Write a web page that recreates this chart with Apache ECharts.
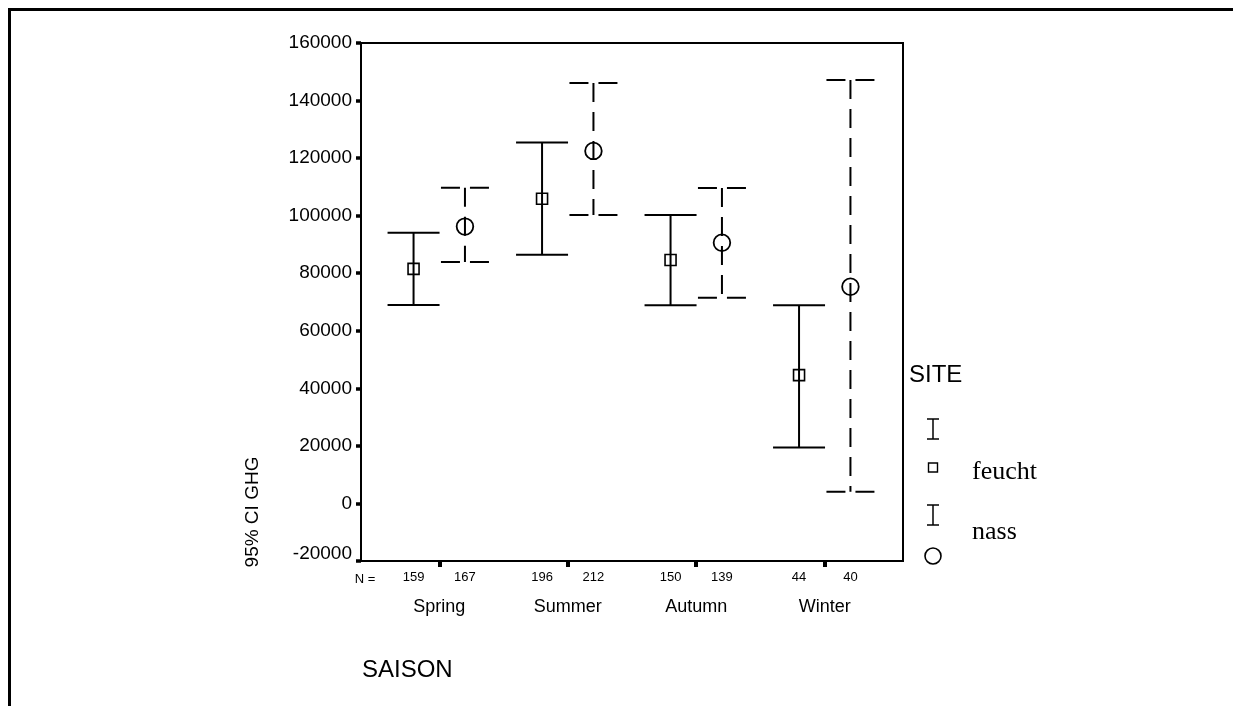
<!DOCTYPE html>
<html>
<head>
<meta charset="utf-8">
<title>95% CI GHG nach SAISON und SITE</title>
<script src="https://cdn.jsdelivr.net/npm/echarts@6/dist/echarts.min.js"></script>
<style>
  html, body { margin: 0; padding: 0; background: #fff; }
  #chart { width: 1236px; height: 706px; }
</style>
</head>
<body>
<div id="chart"></div>
<script>
// Seasons on the x axis
const categories = ['Spring', 'Summer', 'Autumn', 'Winter'];

// Site "feucht": mean and 95% confidence limits of GHG
const feuchtMean = [81500, 105900, 84600, 44600];
const feuchtLow  = [69000, 86400, 68900, 19400];
const feuchtHigh = [94100, 125400, 100200, 68900];
const feuchtN    = [159, 196, 150, 44];

// Site "nass": mean and 95% confidence limits of GHG
const nassMean = [96200, 122500, 90600, 75300];
const nassLow  = [83900, 100200, 71500, 4100];
const nassHigh = [109700, 146100, 109600, 147100];
const nassN    = [167, 212, 139, 40];

// Value axis ticks
const yTicks = [-20000, 0, 20000, 40000, 60000, 80000, 100000, 120000, 140000, 160000];

const SANS = '"Liberation Sans", Arial, sans-serif';
const SERIF = '"Liberation Serif", "Times New Roman", serif';
const OFFSET = 0.2;          // horizontal shift of each site within a season

const catPos = categories.map((c, i) => i + 1);
const labelText = {};
categories.forEach((c, i) => {
  labelText[Math.round((i + 1) * 10)] = '{cat|' + c + '}';
  labelText[Math.round((i + 1 - OFFSET) * 10)] = '{n|' + feuchtN[i] + '}';
  labelText[Math.round((i + 1 + OFFSET) * 10)] = '{n|' + nassN[i] + '}';
});
const labelPos = [];
catPos.forEach(p => { labelPos.push(p - OFFSET, p, p + OFFSET); });

function buildData(low, mean, high, shift) {
  return categories.map((c, i) => [i + 1 + shift, low[i], mean[i], high[i]]);
}

// Error bar: vertical whisker, two caps and a hollow marker at the mean
function errorBar(dashed, marker) {
  return function (params, api) {
    const x = api.value(0);
    const pLo = api.coord([x, api.value(1)]);
    const pMean = api.coord([x, api.value(2)]);
    const pHi = api.coord([x, api.value(3)]);
    const half = dashed ? 24 : 26;
    const lineStyle = {
      stroke: '#000', lineWidth: 2, fill: null,
      lineDash: dashed ? [19, 10] : null
    };
    const children = [
      { type: 'line', shape: { x1: pHi[0], y1: pHi[1], x2: pLo[0], y2: pLo[1] }, style: lineStyle },
      { type: 'line', shape: { x1: pHi[0] - half, y1: pHi[1], x2: pHi[0] + half, y2: pHi[1] }, style: lineStyle },
      { type: 'line', shape: { x1: pLo[0] - half, y1: pLo[1], x2: pLo[0] + half, y2: pLo[1] }, style: lineStyle }
    ];
    if (marker === 'square') {
      children.push({
        type: 'rect',
        shape: { x: pMean[0] - 5.5, y: pMean[1] - 5.5, width: 11, height: 11 },
        style: { stroke: '#000', lineWidth: 1.6, fill: null }
      });
    } else {
      children.push({
        type: 'circle',
        shape: { cx: pMean[0], cy: pMean[1], r: 8.3 },
        style: { stroke: '#000', lineWidth: 1.8, fill: null }
      });
    }
    return { type: 'group', children: children };
  };
}

const chart = echarts.init(document.getElementById('chart'), null, { renderer: 'canvas' });

// Legend block on the right side of the plot
const legendX = 933;
const legendGraphics = [
  { type: 'text', left: 909, top: 363, style: { text: 'SITE', font: '24px ' + SANS, fill: '#000' } },
  { type: 'line', shape: { x1: legendX, y1: 419, x2: legendX, y2: 439 }, style: { stroke: '#000', lineWidth: 1.5 } },
  { type: 'line', shape: { x1: legendX - 6, y1: 419, x2: legendX + 6, y2: 419 }, style: { stroke: '#000', lineWidth: 1.5 } },
  { type: 'line', shape: { x1: legendX - 6, y1: 439, x2: legendX + 6, y2: 439 }, style: { stroke: '#000', lineWidth: 1.5 } },
  { type: 'rect', shape: { x: legendX - 4.5, y: 463, width: 9, height: 9 }, style: { stroke: '#000', lineWidth: 1.4, fill: null } },
  { type: 'text', x: 972, y: 472, style: { text: 'feucht', font: '26px ' + SERIF, fill: '#000', verticalAlign: 'middle' } },
  { type: 'line', shape: { x1: legendX, y1: 505, x2: legendX, y2: 525 }, style: { stroke: '#000', lineWidth: 1.5 } },
  { type: 'line', shape: { x1: legendX - 6, y1: 505, x2: legendX + 6, y2: 505 }, style: { stroke: '#000', lineWidth: 1.5 } },
  { type: 'line', shape: { x1: legendX - 6, y1: 525, x2: legendX + 6, y2: 525 }, style: { stroke: '#000', lineWidth: 1.5 } },
  { type: 'circle', shape: { cx: legendX, cy: 556, r: 8 }, style: { stroke: '#000', lineWidth: 1.6, fill: null } },
  { type: 'text', x: 972, y: 532, style: { text: 'nass', font: '26px ' + SERIF, fill: '#000', verticalAlign: 'middle' } }
];

const option = {
  backgroundColor: '#fff',
  animation: false,
  grid: {
    left: 361, top: 43, width: 542, height: 518,
    show: true, borderColor: '#000', borderWidth: 2, backgroundColor: 'transparent'
  },
  xAxis: {
    type: 'value',
    min: 0.391,
    max: 4.609,
    splitLine: { show: false },
    axisLine: { show: true, onZero: false, lineStyle: { color: '#000', width: 2 } },
    axisTick: {
      show: true, customValues: catPos, length: 6, inside: false,
      lineStyle: { color: '#000', width: 4 }
    },
    axisLabel: {
      show: true,
      customValues: labelPos,
      margin: 10,
      formatter: function (v) { return labelText[Math.round(v * 10)] || ''; },
      rich: {
        n: { fontSize: 13, fontFamily: SANS, color: '#000' },
        cat: { fontSize: 18, fontFamily: SANS, color: '#000', padding: [27, 0, 0, 0] }
      }
    }
  },
  yAxis: {
    type: 'value',
    min: yTicks[0],
    max: yTicks[yTicks.length - 1],
    interval: yTicks[1] - yTicks[0],
    splitLine: { show: false },
    axisLine: { show: true, onZero: false, lineStyle: { color: '#000', width: 2 } },
    axisTick: { show: true, length: 5, lineStyle: { color: '#000', width: 3.5 } },
    axisLabel: {
      margin: 9,
      color: '#000',
      fontSize: 19,
      fontFamily: SANS,
      formatter: function (v) { return v === yTicks[0] ? '{low|' + v + '}' : String(v); },
      rich: {
        low: { fontSize: 19, fontFamily: SANS, color: '#000', padding: [0, 0, 14, 0] }
      }
    }
  },
  graphic: [
    // outer frame
    { type: 'polyline', shape: { points: [[9.5, 706], [9.5, 9.5], [1233, 9.5]] }, style: { stroke: '#000', lineWidth: 3, fill: null } },
    { type: 'text', x: 253, y: 512, rotation: Math.PI / 2,
      style: { text: '95% CI GHG', font: '19px ' + SANS, fill: '#000', align: 'center', verticalAlign: 'middle' } },
    { type: 'text', x: 365, y: 579,
      style: { text: 'N =', font: '13px ' + SANS, fill: '#000', align: 'center', verticalAlign: 'middle' } },
    { type: 'text', x: 362, y: 670,
      style: { text: 'SAISON', font: '24px ' + SANS, fill: '#000', align: 'left', verticalAlign: 'middle' } }
  ].concat(legendGraphics),
  series: [
    {
      name: 'feucht',
      type: 'custom',
      renderItem: errorBar(false, 'square'),
      encode: { x: 0, y: [1, 2, 3] },
      data: buildData(feuchtLow, feuchtMean, feuchtHigh, -OFFSET),
      z: 3
    },
    {
      name: 'nass',
      type: 'custom',
      renderItem: errorBar(true, 'circle'),
      encode: { x: 0, y: [1, 2, 3] },
      data: buildData(nassLow, nassMean, nassHigh, OFFSET),
      z: 3
    }
  ]
};

chart.setOption(option);
</script>
</body>
</html>
